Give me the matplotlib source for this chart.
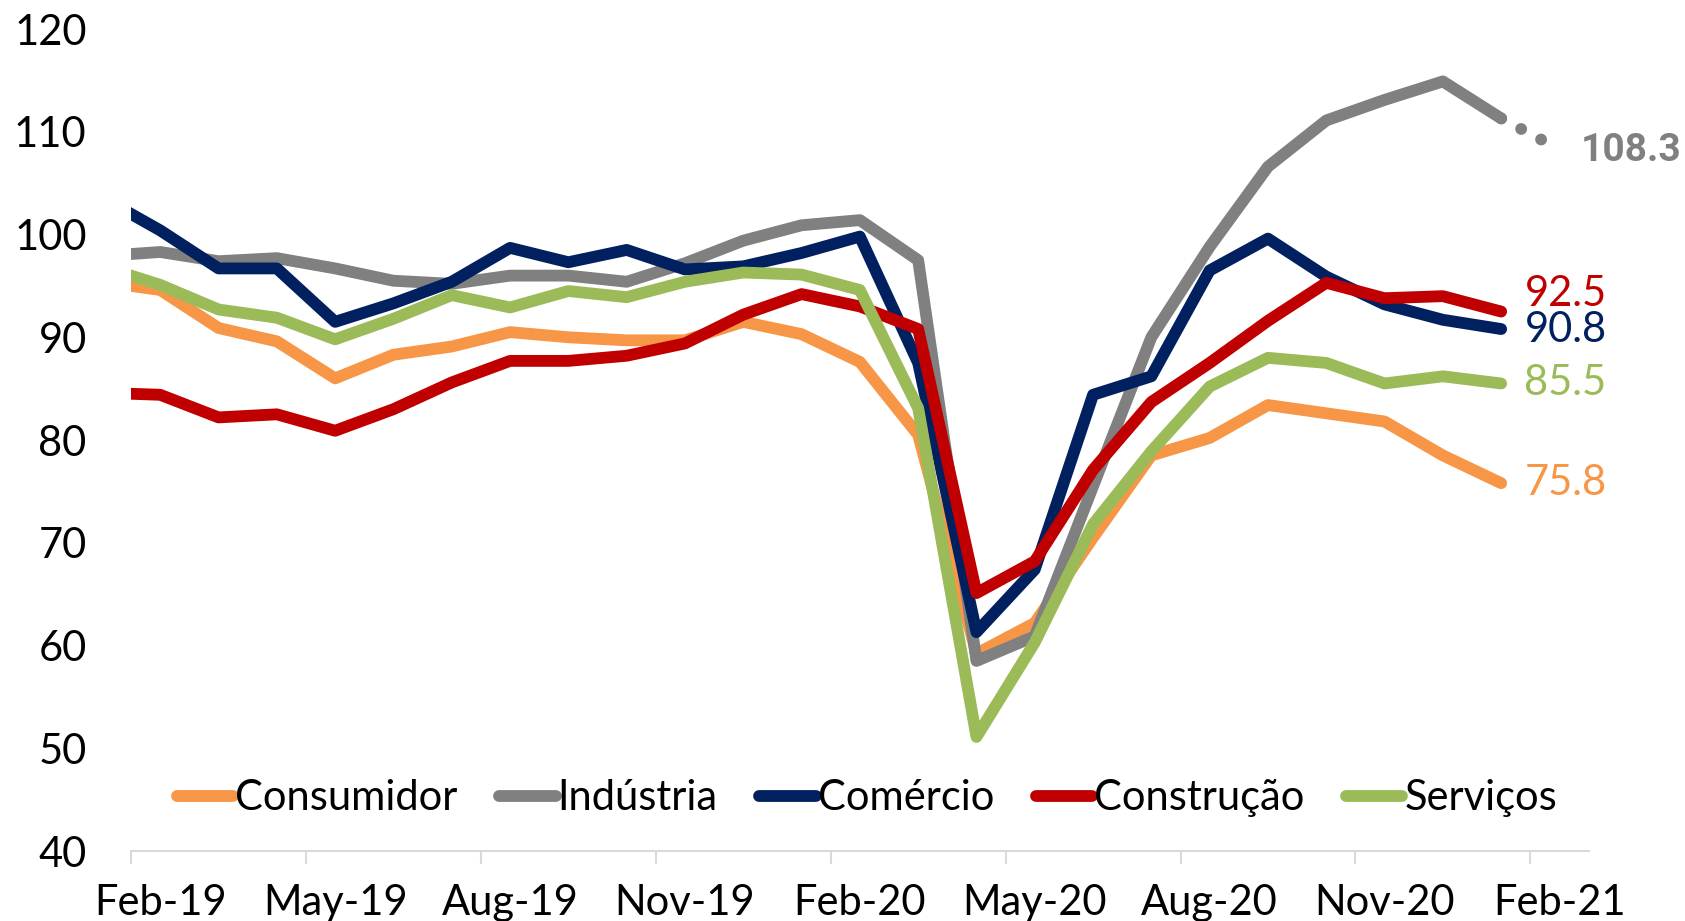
import numpy as np
import matplotlib
matplotlib.use("Agg")
import matplotlib.pyplot as plt

# months: index 0 = Feb-19 ... 24 = Feb-21 ; index -1 = Jan-19 (clipped at the left edge)
months = np.arange(-1, 24)
tick_labels = ["Feb-19", "May-19", "Aug-19", "Nov-19", "Feb-20",
               "May-20", "Aug-20", "Nov-20", "Feb-21"]

consumidor = [95.4, 94.6, 90.9, 89.6, 86.0, 88.3, 89.1, 90.5, 90.0, 89.7, 89.7, 91.5, 90.3,
              87.6, 80.5, 59.2, 62.2, 70.5, 78.5, 80.2, 83.4, 82.6, 81.8, 78.5, 75.8]
industria = [97.9, 98.3, 97.4, 97.7, 96.7, 95.5, 95.2, 96.0, 96.0, 95.4, 97.2, 99.4, 100.9,
             101.4, 97.5, 58.5, 60.9, 75.5, 90.0, 98.8, 106.6, 111.1, 113.1, 114.9, 111.3]
comercio = [103.6, 100.4, 96.7, 96.7, 91.5, 93.3, 95.4, 98.7, 97.3, 98.5, 96.6, 96.9, 98.2,
            99.8, 87.5, 61.3, 67.4, 84.4, 86.2, 96.5, 99.6, 95.9, 93.2, 91.7, 90.8]
construcao = [84.6, 84.4, 82.2, 82.5, 80.9, 83.0, 85.6, 87.7, 87.7, 88.2, 89.4, 92.2, 94.2,
              93.0, 90.8, 65.1, 68.2, 77.1, 83.7, 87.5, 91.6, 95.3, 93.8, 94.0, 92.5]
servicos = [96.9, 95.1, 92.7, 91.9, 89.8, 91.8, 94.1, 92.9, 94.5, 93.9, 95.4, 96.3, 96.1,
            94.6, 83.1, 51.1, 60.3, 71.8, 78.9, 85.2, 88.0, 87.5, 85.5, 86.2, 85.5]
industria_prev = [111.3, 108.3]  # Jan-21 -> Feb-21 preview (dotted)

names = ["Consumidor", "Indústria", "Comércio", "Construção", "Serviços"]
colors = ["#F79646", "#808080", "#002060", "#C00000", "#9BBB59"]
series = [consumidor, industria, comercio, construcao, servicos]

plt.rcParams["font.family"] = ["Lato", "DejaVu Sans"]
FS = 30
LW = 8.5

fig = plt.figure(figsize=(16.85, 9.21), dpi=100)
ax = fig.add_axes([0.0778, 0.076, 0.865, 0.8925])

for vals, name, c in zip(series, names, colors):
    ax.plot(months, vals, color=c, lw=LW, label=name,
            solid_capstyle="round", solid_joinstyle="round")

ax.plot([23, 24], industria_prev, color="#808080", lw=LW,
        linestyle=(0, (0.01, 1.9)), dash_capstyle="round")

# end labels
ax.text(23.4, 94.2, "92.5", color="#C00000", fontsize=FS, va="center", ha="left")
ax.text(23.4, 90.7, "90.8", color="#002060", fontsize=FS, va="center", ha="left")
ax.text(23.4, 85.5, "85.5", color="#9BBB59", fontsize=FS, va="center", ha="left")
ax.text(23.4, 75.8, "75.8", color="#F79646", fontsize=FS, va="center", ha="left")
ax.text(24.36, 108.2, "108.3", color="#808080", fontsize=28, va="center", ha="left",
        fontweight="bold", family=["Roboto", "DejaVu Sans"])

ax.set_xlim(-0.5, 24.5)
ax.set_ylim(40, 120)
ax.set_yticks(np.arange(40, 121, 10))
ax.tick_params(axis="y", length=0, pad=32, labelsize=FS)

ax.set_xticks(np.arange(-0.5, 24, 3))
ax.set_xticklabels([])
ax.set_xticks(np.arange(0, 25, 3), minor=True)
ax.set_xticklabels(tick_labels, minor=True)
ax.tick_params(axis="x", which="major", length=9, width=1.5, color="#D9D9D9")
ax.tick_params(axis="x", which="minor", length=0, pad=24, labelsize=FS)

for s in ["top", "right", "left"]:
    ax.spines[s].set_visible(False)
ax.spines["bottom"].set_color("#D9D9D9")
ax.spines["bottom"].set_linewidth(1.5)

leg = ax.legend(loc="center", bbox_to_anchor=(0.505, 0.064), ncol=5, frameon=False,
                fontsize=FS, handlelength=1.35, handletextpad=0.05, columnspacing=1.0,
                borderaxespad=0)
for h in leg.get_lines():
    h.set_solid_capstyle("round")

fig.savefig("out.png", dpi=100)
